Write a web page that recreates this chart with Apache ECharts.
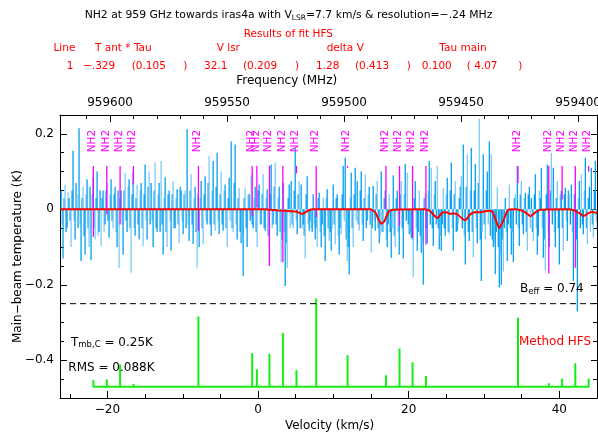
<!DOCTYPE html>
<html>
<head>
<meta charset="utf-8">
<script src="https://cdn.jsdelivr.net/npm/echarts@6/dist/echarts.min.js"></script>
<style>html,body{margin:0;padding:0;background:#fff}#c{width:598px;height:436px}</style>
</head>
<body>
<div id="c"></div>
<script>
// ---- axis ranges and ticks ----
const V_MIN = -26.3, V_MAX = 45.0;
const F_LEFT = 959621.4, F_RIGHT = 959391.9;
const V_MAJOR = [-20, 0, 20, 40];
const V_MINOR = [-25, -15, -10, -5, 5, 10, 15, 25, 30, 35];
const F_MAJOR = [959600, 959550, 959500, 959450, 959400];
const F_MINOR = [959610, 959590, 959580, 959570, 959560, 959540, 959530, 959520, 959510, 959490, 959480, 959470, 959460, 959440, 959430, 959420, 959410];
const Y_MIN = -0.5, Y_MAX = 0.25;
const Y_MAJOR = [-0.4, -0.2, 0, 0.2];
const Y_MINOR = [-0.45, -0.35, -0.3, -0.25, -0.15, -0.1, -0.05, 0.05, 0.1, 0.15];

// ---- observed spectrum (main-beam temperature, K) ----
const SPEC_V0 = -26.16;      // velocity of first even channel (km/s)
const SPEC_MID_V0 = -26.027; // velocity of first odd channel (km/s)
const SPEC_DV = 0.2657;      // spacing of each channel set (km/s)
const SPEC_T = [
 0.05,-0.13,0.065,-0.05,0.03,  -0.1,0.155,-0.08,0.04,0.215,  -0.137,0.06,-0.12,0.08,-0.1,
 -0.135,0.085,-0.08,0.1,-0.06,  -0.097,0.05,-0.04,0.07,-0.075,  0.08,-0.05,0.06,-0.1,-0.155,
 0.05,-0.12,0.097,-0.06,0.08,  -0.168,0.1,-0.07,0.065,-0.08,  0.07,-0.097,0.119,-0.08,0.1,
 0.07,-0.1,0.125,-0.06,0.07,  0.128,-0.12,0.085,-0.1,0.05,  -0.11,0.075,-0.05,0.053,-0.09,
 0.05,-0.066,0.05,0.212,-0.084,  0.093,-0.092,0.06,-0.155,-0.1,  0.075,-0.093,0.088,-0.04,0.141,
 -0.07,0.128,-0.057,0.15,-0.066,  0.1,-0.057,0.066,-0.1,0.084,  0.18,-0.06,0.172,-0.08,0.057,
 -0.09,-0.177,0.057,-0.1,0.04,  0.09,-0.05,0.06,-0.1,0.066,  -0.04,0.093,-0.057,0.053,-0.15,
 0.119,-0.04,0.124,-0.07,0.06,  -0.14,0.07,-0.203,-0.155,0.066,  0.075,-0.05,0.163,-0.066,0.075,
 0.066,-0.04,-0.13,0.088,-0.057,  -0.05,0.04,-0.08,-0.1,0.044,  -0.1,0.03,-0.137,0.053,-0.084,
 -0.11,0.066,-0.093,0.04,-0.12,  -0.066,0.115,0.137,-0.137,-0.172,  0.097,-0.1,0.11,0.075,-0.057,
 0.1,-0.084,0.093,-0.03,0.06,  -0.115,0.062,-0.057,0.075,-0.09,  0.1,-0.06,0.05,-0.1,0.04,
 -0.128,0.09,-0.1,0.05,-0.12,  0.075,-0.13,0.12,0.097,-0.066,  -0.075,-0.18,0.075,-0.11,0.05,
 -0.115,-0.2,0.04,-0.09,0.128,  0.11,-0.097,0.075,0.115,-0.106,  -0.11,0.057,-0.07,0.084,-0.066,
 0.124,-0.11,0.075,-0.057,0.03,  0.088,0.172,-0.146,0.146,-0.084,  0.163,-0.128,0.12,-0.09,0.24,
 -0.19,0.146,-0.08,0.1,0.18,  0.146,-0.1,-0.172,0.06,-0.207,  -0.2,-0.165,0.03,-0.137,0.066,
 -0.12,-0.14,0.04,0.115,-0.097,  0.075,-0.066,0.044,-0.11,0.06,  0.03,-0.084,0.093,-0.12,0.05,
 0.11,-0.128,-0.163,0.119,-0.1,  0.15,0.11,-0.1,0.075,-0.146,  0.05,-0.11,0.057,-0.084,0.04,
 0.066,-0.19,0.05,-0.27,0.075,  0.093,-0.066,0.137,-0.093,0.06,  0.11,-0.075,0.128,-0.05
];
const SPEC_T_MID = [
 -0.04,0.03,-0.06,0.045,-0.03,  0.05,-0.03,0.07,-0.05,-0.04,  0.03,-0.07,0.04,-0.05,0.06,
 0.04,-0.05,0.03,-0.07,0.05,  0.03,-0.06,0.05,-0.03,0.04,  -0.03,0.04,-0.06,0.05,0.03,
 -0.04,0.05,-0.03,0.06,-0.05,  0.04,-0.05,0.03,-0.04,0.05,  -0.05,0.04,-0.03,0.06,-0.04,
 -0.03,0.05,-0.05,0.04,-0.06,  -0.04,0.03,-0.06,0.04,-0.03,  0.04,-0.05,0.03,-0.04,0.06,
 -0.03,0.04,-0.05,-0.04,0.05,  -0.04,0.03,-0.06,0.04,0.03,  -0.05,0.04,-0.03,0.07,-0.04,
 0.05,-0.04,0.06,-0.03,0.04,  -0.04,0.05,-0.05,0.03,-0.03,  -0.05,0.07,-0.04,0.03,-0.06,
 -0.07,0.03,-0.05,0.04,-0.03,  -0.04,0.03,-0.06,0.05,-0.04,  0.04,-0.05,0.03,-0.07,0.04,
 -0.05,0.06,-0.04,0.03,-0.06,  -0.08,-0.06,-0.09,0.03,-0.05,  -0.04,0.05,-0.03,0.04,-0.05,
 -0.05,-0.07,0.04,-0.04,-0.03,  -0.06,-0.04,-0.05,0.03,-0.06,  -0.04,-0.07,0.03,-0.05,-0.06,
 -0.05,-0.04,0.03,-0.07,-0.05,  0.04,-0.03,-0.08,-0.1,0.03,  -0.05,0.04,-0.03,-0.04,0.05,
 -0.04,0.03,-0.05,0.04,-0.04,  -0.05,-0.03,0.04,-0.05,-0.07,  -0.06,0.03,-0.08,-0.04,-0.06,
 -0.05,-0.07,0.03,-0.06,0.04,  -0.05,0.04,-0.03,-0.04,-0.06,  -0.08,0.03,-0.05,-0.06,-0.07,
 -0.09,0.03,-0.05,0.05,-0.04,  -0.05,0.04,-0.04,-0.05,-0.07,  -0.04,-0.05,0.04,-0.06,0.05,
 -0.05,0.04,-0.06,-0.04,0.06,  -0.05,-0.07,0.06,-0.06,0.05,  -0.06,0.05,-0.05,0.07,-0.08,
 -0.06,-0.04,0.05,-0.04,-0.07,  -0.08,-0.09,-0.06,-0.1,-0.12,  -0.08,-0.05,-0.06,-0.04,-0.05,
 -0.06,0.03,-0.04,-0.05,0.04,  -0.04,0.03,-0.06,0.04,-0.05,  -0.06,0.04,-0.05,-0.07,0.03,
 -0.05,-0.08,0.04,-0.06,0.05,  -0.04,-0.06,0.03,-0.05,0.04,  -0.05,0.04,-0.03,0.05,-0.04,
 -0.06,0.04,-0.08,0.03,-0.05,  -0.04,0.05,-0.05,0.03,-0.06,  -0.04,0.05,-0.03
];

// ---- HFS fit curve ----
const FIT_V = [-26.3, 1.0, 1.61, 2.67, 4.26, 5.06, 5.86, 6.66, 7.32, 14.89, 15.56, 15.95, 16.35, 16.75, 17.28, 17.81,
 22.2, 22.86, 23.79, 24.46, 24.99, 25.52, 25.92, 26.45, 27.12, 27.52, 28.05, 28.71, 29.51, 30.57, 31.1, 31.5, 32.03,
 32.56, 33.23, 34.16, 34.82, 35.49, 36.15, 36.82, 37.48, 41.07, 42.0, 42.8, 43.2, 43.86, 44.4, 45.0];
const FIT_T = [0, 0, -0.001, -0.003, -0.005, -0.006, -0.012, -0.003, 0, 0, -0.008, -0.025, -0.038, -0.032, -0.008, -0.001,
 0, -0.005, -0.023, -0.009, -0.008, -0.012, -0.011, -0.013, -0.025, -0.029, -0.016, -0.008, -0.008, -0.004, -0.006, -0.025, -0.05,
 -0.03, -0.001, 0, -0.002, -0.008, -0.018, -0.008, -0.001, 0, -0.003, -0.012, -0.018, -0.01, -0.007, -0.01];

// ---- NH2 hyperfine components ----
const NH2_V = [-21.87, -20.09, -18.32, -16.55, -7.92, -0.78, -0.16, 1.51, 3.29, 5.10, 7.72, 11.88, 16.98, 18.78, 20.51, 22.29, 34.51, 38.60, 40.37, 42.12, 43.89];
const NH2_TOP = 0.115;
const NH2_LOW = [-0.073, -0.013, -0.04, 0.066, -0.057, -0.018, 0.005, -0.15, -0.14, 0.095, -0.02, 0.11, 0.0, -0.044, -0.075, -0.093, 0.07, -0.17, 0.026, -0.155, 0.10];
const NH2_LABEL_T = 0.181;
const STICK_BASE = -0.47;
const STICK_TOP = [-0.452, -0.45, -0.411, -0.463, -0.284, -0.381, -0.424, -0.383, -0.328, -0.426, -0.236, -0.387, -0.44, -0.369, -0.405, -0.442, -0.287, -0.461, -0.448, -0.408, -0.448];
const BEFF_LEVEL = -0.25;

// ---- build ----
const FONT = 'DejaVu Sans';
const minus = v => String(Math.round(v * 1000) / 1000).replace('-', '\u2212');
const specData = [];
SPEC_T.forEach((t, i) => {
  specData.push([SPEC_V0 + i * SPEC_DV, t]);
  if (i < SPEC_T_MID.length) specData.push([SPEC_MID_V0 + i * SPEC_DV, SPEC_T_MID[i]]);
});
const fitData = FIT_V.map((v, i) => [v, FIT_T[i]]);
const nh2Data = NH2_V.map((v, i) => [v, NH2_TOP, NH2_LOW[i]]);
const stickData = [];
NH2_V.forEach((v, i) => { stickData.push([v, STICK_BASE], [v, STICK_TOP[i]], [v, STICK_BASE]); });

const black = '#000';
function xAx(opts) {
  return Object.assign({
    type: 'value', gridIndex: 0, min: V_MIN, max: V_MAX, splitLine: { show: false },
    axisLine: { show: false, onZero: false, lineStyle: { color: black, width: 1 } },
    axisTick: { show: true, inside: true, length: 4, lineStyle: { color: black } },
    axisLabel: { show: false }
  }, opts);
}
function yAx(opts) {
  return Object.assign({
    type: 'value', gridIndex: 0, min: Y_MIN, max: Y_MAX, splitLine: { show: false },
    axisLine: { show: false, onZero: false, lineStyle: { color: black, width: 1 } },
    axisTick: { show: true, inside: true, length: 4, lineStyle: { color: black } },
    axisLabel: { show: false }
  }, opts);
}

const chart = echarts.init(document.getElementById('c'), null, { renderer: 'canvas' });
const sub = (t) => ({ fontSize: 8, lineHeight: 9, verticalAlign: 'bottom', fontFamily: FONT, fill: t });
function txt(text, x, y, opt) {
  opt = opt || {};
  return {
    type: 'text', x: x, y: y, rotation: opt.rot || 0, z: 100,
    style: {
      text: text, fill: opt.color || black, font: (opt.size || 10.5) + 'px ' + FONT,
      align: opt.align || 'left', verticalAlign: 'middle', lineHeight: 14,
      rich: { s: Object.assign(sub(opt.color || black), { fontSize: opt.sub || 7.5 }) }
    }
  };
}
const red = '#ff0000';
const graphics = [
  txt('NH2 at 959 GHz towards iras4a with V{s|LSR}=7.7 km/s & resolution=\u2212.24 MHz', 288.5, 15, { align: 'center', size: 10.8 }),
  txt('Results of fit HFS', 288.3, 34.3, { align: 'center', color: red }),
  txt('Line', 53.5, 48.3, { color: red }),
  txt('T ant * Tau', 95, 48.3, { color: red }),
  txt('V lsr', 216.7, 48.3, { color: red }),
  txt('delta V', 326.7, 48.3, { color: red }),
  txt('Tau main', 439.3, 48.3, { color: red }),
  txt('1', 66.7, 66.7, { color: red }),
  txt('\u2212.329', 83, 66.7, { color: red }),
  txt('(0.105', 131.7, 66.7, { color: red }),
  txt(')', 183.3, 66.7, { color: red }),
  txt('32.1', 204, 66.7, { color: red }),
  txt('(0.209', 243, 66.7, { color: red }),
  txt(')', 295, 66.7, { color: red }),
  txt('1.28', 316, 66.7, { color: red }),
  txt('(0.413', 355, 66.7, { color: red }),
  txt(')', 406.7, 66.7, { color: red }),
  txt('0.100', 421.7, 66.7, { color: red }),
  txt('( 4.07', 466.7, 66.7, { color: red }),
  txt(')', 518.3, 66.7, { color: red }),
  txt('Frequency (MHz)', 286.7, 81, { align: 'center', size: 12 }),
  txt('Velocity (km/s)', 329.5, 426, { align: 'center', size: 12 }),
  txt('Main\u2212beam temperature (K)', 18, 256.5, { align: 'center', size: 12, rot: Math.PI / 2 }),
  txt('B{s|eff} = 0.74', 520, 289.2, { size: 12, sub: 8.5 }),
  txt('T{s|mb,C} = 0.25K', 71, 342.7, { size: 12, sub: 8.5 }),
  txt('RMS = 0.088K', 68.3, 368.3, { size: 12 }),
  txt('Method HFS', 519, 342, { size: 12, color: red })
];

const option = {
  animation: false,
  backgroundColor: '#fff',
  textStyle: { fontFamily: FONT },
  grid: { left: 60, right: 1, top: 115, bottom: 38, containLabel: false, outerBoundsMode: 'none' },
  xAxis: [
    xAx({ position: 'bottom', axisLine: { show: true, onZero: false, lineStyle: { color: black, width: 1 } },
      axisTick: { show: true, inside: true, length: 7, customValues: V_MAJOR, lineStyle: { color: black } },
      axisLabel: { show: true, customValues: V_MAJOR, formatter: minus, color: black, fontSize: 12, fontFamily: FONT, margin: 6 } }),
    xAx({ position: 'bottom', axisTick: { show: true, inside: true, length: 4, customValues: V_MINOR, lineStyle: { color: black } } }),
    xAx({ position: 'top', min: F_RIGHT, max: F_LEFT, inverse: true,
      axisLine: { show: true, onZero: false, lineStyle: { color: black, width: 1 } },
      axisTick: { show: true, inside: true, length: 7, customValues: F_MAJOR, lineStyle: { color: black } },
      axisLabel: { show: true, customValues: F_MAJOR, formatter: v => String(Math.round(v)), color: black, fontSize: 12, fontFamily: FONT, margin: 6 } }),
    xAx({ position: 'top', min: F_RIGHT, max: F_LEFT, inverse: true,
      axisTick: { show: true, inside: true, length: 4, customValues: F_MINOR, lineStyle: { color: black } } })
  ],
  yAxis: [
    yAx({ position: 'left', axisLine: { show: true, onZero: false, lineStyle: { color: black, width: 1 } },
      axisTick: { show: true, inside: true, length: 7, customValues: Y_MAJOR, lineStyle: { color: black } },
      axisLabel: { show: true, customValues: Y_MAJOR, formatter: minus, color: black, fontSize: 12, fontFamily: FONT, margin: 6 } }),
    yAx({ position: 'left', axisTick: { show: true, inside: true, length: 4, customValues: Y_MINOR, lineStyle: { color: black } } }),
    yAx({ position: 'right', axisLine: { show: true, onZero: false, lineStyle: { color: black, width: 1 } },
      axisTick: { show: true, inside: true, length: 6, customValues: Y_MAJOR, lineStyle: { color: black } } }),
    yAx({ position: 'right', axisTick: { show: true, inside: true, length: 4, customValues: Y_MINOR, lineStyle: { color: black } } })
  ],
  series: [
    {
      type: 'custom', name: 'spectrum', xAxisIndex: 0, yAxisIndex: 0, clip: true, z: 2,
      data: specData,
      renderItem: function (params, api) {
        const v = api.value(0), t = api.value(1);
        const p0 = api.coord([v, 0]), p1 = api.coord([v, t]);
        const light = params.dataIndex % 3 === 1;
        return {
          type: 'rect',
          shape: { x: p0[0] - 0.65, y: Math.min(p0[1], p1[1]), width: 1.3, height: Math.abs(p1[1] - p0[1]) },
          style: { fill: light ? '#7ccaf5' : '#049ff0' }
        };
      }
    },
    {
      type: 'custom', name: 'NH2', xAxisIndex: 0, yAxisIndex: 0, clip: false, z: 3,
      data: nh2Data,
      renderItem: function (params, api) {
        const v = api.value(0);
        const pt = api.coord([v, api.value(1)]), pb = api.coord([v, api.value(2)]);
        const pl = api.coord([v, NH2_LABEL_T]);
        return {
          type: 'group', children: [
            { type: 'line', shape: { x1: pt[0], y1: pt[1], x2: pb[0], y2: pb[1] }, style: { stroke: '#ff00ff', lineWidth: 1.3 } },
            { type: 'text', x: pl[0] - 1, y: pl[1], rotation: Math.PI / 2,
              style: { text: 'NH2', fill: '#ff00ff', font: '10.5px ' + FONT, align: 'center', verticalAlign: 'middle' } }
          ]
        };
      }
    },
    {
      type: 'line', name: 'HFS fit', xAxisIndex: 0, yAxisIndex: 0, data: fitData, smooth: 0.2,
      showSymbol: false, z: 5, lineStyle: { color: '#ff0000', width: 2 }
    },
    {
      type: 'line', name: 'components', xAxisIndex: 0, yAxisIndex: 0, data: stickData,
      showSymbol: false, z: 4, lineStyle: { color: '#16ec16', width: 2 }
    },
    {
      type: 'line', name: 'Beff', xAxisIndex: 0, yAxisIndex: 0, data: [[V_MIN, BEFF_LEVEL], [V_MAX, BEFF_LEVEL]],
      showSymbol: false, z: 4, lineStyle: { color: black, width: 1, type: [6, 4] }
    }
  ],
  graphic: graphics
};
chart.setOption(option);
</script>
</body>
</html>
